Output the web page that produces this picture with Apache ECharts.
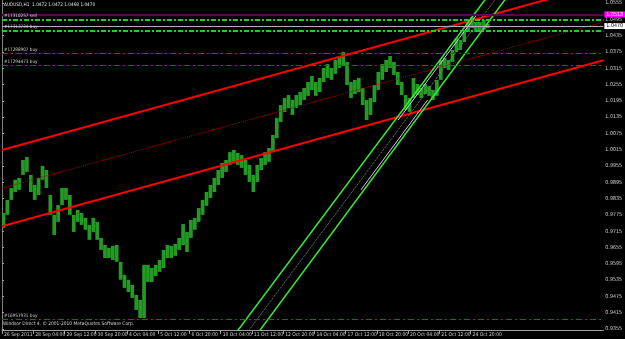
<!DOCTYPE html>
<html><head><meta charset="utf-8">
<script src="https://cdn.jsdelivr.net/npm/echarts@6/dist/echarts.min.js"></script>
<style>html,body{margin:0;padding:0;background:#000;}#c{width:625px;height:339px;}</style>
</head><body><div id="c"></div>
<script>
const symbolTitle = 'AUDUSD,H1  1.0472 1.0472 1.0468 1.0470';
const copyright = 'Windsor Direct 4, \u00a9 2001-2010 MetaQuotes Software Corp.';
const timeLabels = ['26 Sep 2011','28 Sep 04:00','29 Sep 12:00','30 Sep 20:00','4 Oct 04:00','5 Oct 12:00','6 Oct 20:00','10 Oct 04:00','11 Oct 12:00','12 Oct 20:00','14 Oct 04:00','17 Oct 12:00','18 Oct 20:00','20 Oct 04:00','21 Oct 12:00','24 Oct 20:00'];
const timeLabelBars = [0,32,64,96,128,160,192,224,256,288,320,352,384,416,448,480];
const priceTicks = [0.9355,0.9415,0.9475,0.9535,0.9595,0.9655,0.9715,0.9775,0.9835,0.9895,0.9955,1.0015,1.0075,1.0135,1.0195,1.0255,1.0315,1.0375,1.0435,1.0495,1.0555];

// H1 bars grouped by 4 hours: high / low of each group
const barsPerGroup = 4;
const barHigh = [
0.9782,0.9830,0.9874,0.9904,0.9911,0.9977,0.9988,0.9922,0.9885,0.9911,
0.9955,0.9940,0.9848,0.9775,0.9811,0.9874,0.9874,0.9848,0.9775,0.9793,
0.9782,0.9764,0.9738,0.9764,0.9749,0.9690,0.9664,0.9653,0.9661,0.9664,
0.9602,0.9554,0.9536,0.9517,0.9480,0.9462,0.9591,0.9591,0.9579,0.9591,
0.9609,0.9646,0.9664,0.9661,0.9668,0.9690,0.9741,0.9712,0.9756,0.9764,
0.9800,0.9830,0.9859,0.9885,0.9911,0.9940,0.9966,0.9977,1.0006,1.0014,
1.0003,0.9995,0.9977,0.9959,0.9922,0.9959,0.9984,1.0006,1.0021,1.0069,
1.0132,1.0179,1.0205,1.0216,1.0198,1.0216,1.0227,1.0242,1.0264,1.0286,
1.0264,1.0279,1.0316,1.0330,1.0316,1.0345,1.0360,1.0375,1.0338,1.0264,
1.0272,1.0279,1.0242,1.0198,1.0205,1.0253,1.0301,1.0330,1.0345,1.0360,
1.0338,1.0301,1.0264,1.0216,1.0205,1.0279,1.0257,1.0242,1.0257,1.0249,
1.0235,1.0272,1.0345,1.0353,1.0345,1.0382,1.0426,1.0419,1.0456,1.0492,
1.0503,1.0485,1.0485,1.0492,1.0478];
const barLow = [
0.9727,0.9775,0.9830,0.9859,0.9867,0.9922,0.9933,0.9859,0.9830,0.9848,
0.9904,0.9874,0.9775,0.9701,0.9749,0.9811,0.9830,0.9775,0.9712,0.9749,
0.9738,0.9720,0.9683,0.9712,0.9683,0.9646,0.9616,0.9616,0.9609,0.9602,
0.9536,0.9506,0.9491,0.9469,0.9425,0.9395,0.9395,0.9528,0.9528,0.9550,
0.9565,0.9579,0.9616,0.9616,0.9624,0.9646,0.9664,0.9638,0.9690,0.9720,
0.9749,0.9775,0.9808,0.9837,0.9859,0.9885,0.9911,0.9933,0.9959,0.9970,
0.9959,0.9948,0.9922,0.9896,0.9859,0.9896,0.9940,0.9959,0.9970,1.0006,
1.0058,1.0117,1.0154,1.0168,1.0143,1.0168,1.0179,1.0198,1.0213,1.0235,
1.0213,1.0227,1.0264,1.0279,1.0272,1.0294,1.0316,1.0323,1.0253,1.0205,
1.0220,1.0227,1.0179,1.0124,1.0143,1.0190,1.0235,1.0272,1.0301,1.0316,
1.0290,1.0253,1.0216,1.0161,1.0154,1.0205,1.0216,1.0205,1.0220,1.0213,
1.0198,1.0213,1.0272,1.0316,1.0308,1.0338,1.0375,1.0382,1.0411,1.0448,
1.0463,1.0448,1.0448,1.0456,1.0463];

// trend channel (red), endpoints in bars / price
const channelBars = [0, 616];
const channelUpper = [1.0014, 1.0625];
const channelMiddle = [0.9873, 1.0485];
const channelLower = [0.9733, 1.0344];
// steep channel (green)
const steepPrices = [0.9300, 1.0600];
const steepLeftBars = [231.3, 501.7];
const steepRightBars = [253.9, 522.0];
const steepMidBars = [242.6, 511.9];
const paleRightBars = [367.7, 436.0];
const paleRightPrices = [0.9867, 1.0198];
const paleLeftBars = [405.8, 486.2];
const paleLeftPrices = [1.0124, 1.0511];

// order levels
const orderNames = ['#17310257 sell','#17313724 buy','#17288907 buy','#17294473 buy','#16957931 buy'];
const orderLevels = [1.0495, 1.0453, 1.0370, 1.0324, 0.9392];
const askLevel = 1.0513;
const bidLevel = 1.0470;

const FONT = "'Liberation Sans Narrow', 'DejaVu Sans Condensed', 'Liberation Sans', sans-serif";
const TXT = '#d0d0d0';

const priceData = barHigh.map((h, i) => [i * barsPerGroup + barsPerGroup / 2 - 0.5, barLow[i], h]);
const seg = (bars, prices) => [[bars[0], prices[0]], [bars[1], prices[1]]];

function lineSeries(data, color, width, type, z) {
  return {type: 'line', data, symbol: 'none', showSymbol: false, clip: true, silent: true, z: z || 4,
    lineStyle: {color, width, type: type || 'solid'}};
}

const markItems = orderLevels.map((v, i) => ({
  yAxis: v,
  lineStyle: i < 2 ? {color: '#22cc22', width: 2, type: [5, 2, 2, 2]} : {color: '#0b7a0b', width: 1, type: [6, 3, 2, 3]},
  label: {show: true, position: 'insideStartTop', formatter: orderNames[i], color: TXT, fontSize: 4.6, fontFamily: FONT, distance: [2, 1]}
}));
markItems.push({
  yAxis: askLevel,
  lineStyle: {color: '#560656', width: 2, type: 'solid'},
  label: {show: true, position: 'end', formatter: p => p.value.toFixed(4), backgroundColor: '#ff00ff', color: '#ffffff', fontSize: 5.3, fontFamily: FONT, padding: [1, 3, 0, 2], distance: 1}
});
markItems.push({
  yAxis: bidLevel,
  lineStyle: {color: '#b0b0b0', width: 1, type: 'solid'},
  label: {show: true, position: 'end', formatter: p => p.value.toFixed(4), backgroundColor: '#ffffff', color: '#000000', fontSize: 5.3, fontFamily: FONT, padding: [1, 3, 0, 2], distance: 1}
});

const chart = echarts.init(document.getElementById('c'));
chart.setOption({
  animation: false,
  backgroundColor: '#000000',
  title: [
    {text: symbolTitle, left: 4, top: 2, padding: 0, textStyle: {fontSize: 4.7, color: '#e0e0e0', fontWeight: 'normal', fontFamily: FONT}},
    {text: copyright, left: 3, top: 321, padding: 0, textStyle: {fontSize: 4.9, color: TXT, fontWeight: 'normal', fontFamily: FONT}}
  ],
  grid: {left: 2, right: 19, top: 0, bottom: 9, show: false},
  xAxis: {
    type: 'value', min: 0, max: 616, splitLine: {show: false},
    axisLine: {lineStyle: {color: '#a0a0a0', width: 1}},
    axisTick: {show: true, length: 4, lineStyle: {color: '#a0a0a0'}, customValues: timeLabelBars},
    axisLabel: {customValues: timeLabelBars, formatter: v => timeLabels[timeLabelBars.indexOf(v)] || '',
      align: 'left', margin: 2, fontSize: 5, color: TXT, fontFamily: FONT, padding: [0, 0, 0, 2]}
  },
  yAxis: [
    {type: 'value', position: 'right', min: 0.9351, max: 1.0566, splitLine: {show: false},
      axisLine: {show: true, lineStyle: {color: '#a0a0a0', width: 1}},
      axisTick: {show: true, length: 2, lineStyle: {color: '#a0a0a0'}, customValues: priceTicks},
      axisLabel: {customValues: priceTicks, formatter: v => v.toFixed(4), margin: 2, fontSize: 5.3, color: TXT, fontFamily: FONT}},
    {type: 'value', position: 'left', min: 0.9351, max: 1.0566, splitLine: {show: false},
      axisLine: {show: true, lineStyle: {color: '#808080', width: 1}}, axisTick: {show: false}, axisLabel: {show: false}}
  ],
  series: [
    {type: 'line', data: [], silent: true, z: 3,
      markLine: {silent: true, precision: 4, symbol: ['none', 'none'], animation: false, data: markItems}},
    {type: 'custom', data: priceData, z: 2, clip: true, silent: true,
      renderItem: (params, api) => {
        const b = api.value(0);
        const top = api.coord([b, api.value(2)]);
        const bot = api.coord([b, api.value(1)]);
        const w = api.size([barsPerGroup, 0])[0] * 0.95;
        return {type: 'rect', shape: {x: top[0] - w / 2, y: top[1], width: w, height: Math.max(1, bot[1] - top[1])},
          style: {fill: '#239a23'}};
      }},
    lineSeries(seg(channelBars, channelUpper), '#ff0000', 2),
    lineSeries(seg(channelBars, channelMiddle), '#b00000', 1, 'dotted'),
    lineSeries(seg(channelBars, channelLower), '#ff0000', 2),
    lineSeries(seg(steepLeftBars, steepPrices), '#33ee33', 1.5),
    lineSeries(seg(steepRightBars, steepPrices), '#33ee33', 1.5),
    lineSeries(seg(steepMidBars, steepPrices), '#8a8a8a', 1, 'dotted'),
    lineSeries(seg(paleRightBars, paleRightPrices), '#d8c0f0', 1),
    lineSeries(seg(paleLeftBars, paleLeftPrices), '#d8c0f0', 1)
  ]
});
</script></body></html>
